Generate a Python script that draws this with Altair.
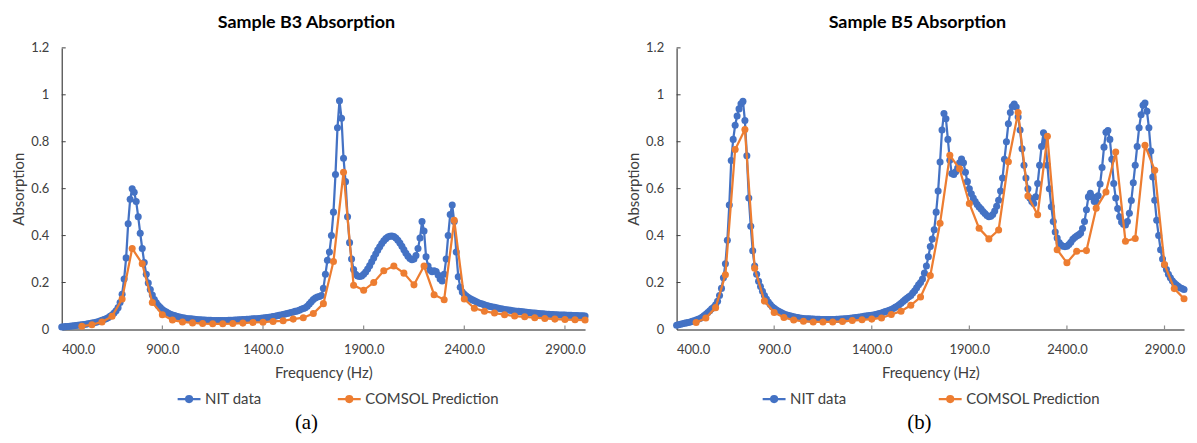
import altair as alt
import pandas as pd

# ---------------- data ----------------
nit_freq = list(range(400, 3001, 10))      # NIT measurement grid (Hz)
comsol_freq = list(range(500, 3001, 50))   # COMSOL prediction grid (Hz)

b3_nit = [
    0.010, 0.011, 0.012, 0.013, 0.014, 0.015, 0.016, 0.017, 0.018, 0.019,  # 400
    0.020, 0.021, 0.022, 0.024, 0.025, 0.027, 0.029, 0.031, 0.033, 0.036,  # 500
    0.039, 0.042, 0.046, 0.050, 0.056, 0.062, 0.070, 0.080, 0.093, 0.115,  # 600
    0.150, 0.215, 0.305, 0.450, 0.555, 0.600, 0.585, 0.545, 0.480, 0.410,  # 700
    0.345, 0.285, 0.235, 0.198, 0.170, 0.147, 0.128, 0.114, 0.102, 0.093,  # 800
    0.085, 0.079, 0.074, 0.069, 0.065, 0.062, 0.059, 0.056, 0.054, 0.052,  # 900
    0.050, 0.049, 0.047, 0.046, 0.045, 0.044, 0.043, 0.042, 0.041, 0.041,  # 1000
    0.040, 0.040, 0.039, 0.039, 0.039, 0.038, 0.038, 0.038, 0.038, 0.038,  # 1100
    0.038, 0.038, 0.038, 0.039, 0.039, 0.039, 0.040, 0.040, 0.041, 0.041,  # 1200
    0.042, 0.042, 0.043, 0.043, 0.044, 0.045, 0.045, 0.046, 0.047, 0.048,  # 1300
    0.049, 0.050, 0.051, 0.052, 0.053, 0.055, 0.056, 0.058, 0.060, 0.062,  # 1400
    0.064, 0.066, 0.068, 0.070, 0.072, 0.074, 0.077, 0.079, 0.082, 0.086,  # 1500
    0.089, 0.092, 0.099, 0.108, 0.118, 0.128, 0.134, 0.138, 0.140, 0.145,  # 1600
    0.175, 0.235, 0.295, 0.330, 0.400, 0.500, 0.660, 0.860, 0.975, 0.900,  # 1700
    0.730, 0.630, 0.480, 0.370, 0.300, 0.255, 0.235, 0.228, 0.226, 0.228,  # 1800
    0.235, 0.245, 0.258, 0.272, 0.288, 0.305, 0.322, 0.338, 0.352, 0.366,  # 1900
    0.378, 0.387, 0.394, 0.397, 0.398, 0.396, 0.390, 0.380, 0.368, 0.355,  # 2000
    0.340, 0.325, 0.312, 0.302, 0.297, 0.300, 0.315, 0.345, 0.390, 0.460,  # 2100
    0.420, 0.310, 0.270, 0.252, 0.246, 0.250, 0.247, 0.232, 0.215, 0.207,  # 2200
    0.235, 0.300, 0.400, 0.490, 0.530, 0.460, 0.330, 0.225, 0.180, 0.160,  # 2300
    0.150, 0.142, 0.136, 0.131, 0.126, 0.122, 0.118, 0.114, 0.111, 0.108,  # 2400
    0.105, 0.102, 0.100, 0.098, 0.096, 0.094, 0.092, 0.090, 0.088, 0.087,  # 2500
    0.085, 0.084, 0.083, 0.082, 0.080, 0.079, 0.078, 0.077, 0.076, 0.075,  # 2600
    0.074, 0.073, 0.072, 0.071, 0.070, 0.070, 0.069, 0.068, 0.067, 0.067,  # 2700
    0.066, 0.065, 0.065, 0.064, 0.064, 0.063, 0.063, 0.062, 0.062, 0.061,  # 2800
    0.061, 0.060, 0.060, 0.060, 0.059, 0.059, 0.059, 0.058, 0.058, 0.058,  # 2900
    0.057,                                                                 # 3000
]

b3_comsol = [
    0.014, 0.020, 0.032, 0.056, 0.130, 0.345, 0.280, 0.115, 0.063, 0.040,  # 500-950
    0.032, 0.028, 0.025, 0.024, 0.024, 0.025, 0.027, 0.030, 0.031, 0.034,  # 1000-1450
    0.037, 0.044, 0.050, 0.068, 0.110, 0.290, 0.670, 0.188, 0.167, 0.200,  # 1500-1950
    0.250, 0.270, 0.240, 0.190, 0.270, 0.148, 0.127, 0.465, 0.130, 0.090,  # 2000-2450
    0.078, 0.070, 0.063, 0.057, 0.054, 0.050, 0.047, 0.044, 0.042, 0.041,  # 2500-2950
    0.040,                                                                 # 3000
]

b5_nit = [
    0.018, 0.020, 0.022, 0.024, 0.026, 0.028, 0.030, 0.032, 0.035, 0.037,  # 400
    0.040, 0.043, 0.047, 0.052, 0.058, 0.065, 0.072, 0.080, 0.088, 0.095,  # 500
    0.105, 0.120, 0.145, 0.175, 0.220, 0.280, 0.380, 0.530, 0.720, 0.810,  # 600
    0.870, 0.910, 0.940, 0.962, 0.972, 0.890, 0.740, 0.560, 0.440, 0.335,  # 700
    0.270, 0.235, 0.205, 0.183, 0.163, 0.145, 0.130, 0.117, 0.106, 0.097,  # 800
    0.090, 0.084, 0.079, 0.074, 0.070, 0.066, 0.063, 0.060, 0.058, 0.056,  # 900
    0.054, 0.052, 0.051, 0.049, 0.048, 0.047, 0.046, 0.045, 0.045, 0.044,  # 1000
    0.044, 0.043, 0.043, 0.043, 0.042, 0.042, 0.042, 0.042, 0.042, 0.042,  # 1100
    0.042, 0.042, 0.043, 0.043, 0.044, 0.044, 0.045, 0.046, 0.047, 0.048,  # 1200
    0.049, 0.050, 0.051, 0.052, 0.053, 0.054, 0.056, 0.057, 0.058, 0.059,  # 1300
    0.060, 0.062, 0.064, 0.066, 0.068, 0.070, 0.073, 0.076, 0.079, 0.082,  # 1400
    0.085, 0.089, 0.094, 0.099, 0.105, 0.112, 0.119, 0.126, 0.133, 0.139,  # 1500
    0.145, 0.155, 0.165, 0.178, 0.190, 0.200, 0.215, 0.240, 0.270, 0.310,  # 1600
    0.353, 0.385, 0.425, 0.500, 0.590, 0.714, 0.850, 0.920, 0.898, 0.810,  # 1700
    0.721, 0.665, 0.660, 0.672, 0.688, 0.710, 0.726, 0.710, 0.670, 0.630,  # 1800
    0.600, 0.578, 0.560, 0.545, 0.532, 0.522, 0.513, 0.503, 0.494, 0.486,  # 1900
    0.480, 0.482, 0.490, 0.505, 0.525, 0.551, 0.590, 0.645, 0.725, 0.800,  # 2000
    0.877, 0.925, 0.950, 0.961, 0.948, 0.905, 0.850, 0.770, 0.700, 0.645,  # 2100
    0.600, 0.560, 0.545, 0.537, 0.565, 0.622, 0.700, 0.780, 0.838, 0.800,  # 2200
    0.700, 0.600, 0.523, 0.460, 0.415, 0.390, 0.370, 0.360, 0.355, 0.353,  # 2300
    0.355, 0.362, 0.372, 0.384, 0.392, 0.398, 0.403, 0.410, 0.430, 0.460,  # 2400
    0.510, 0.565, 0.580, 0.565, 0.545, 0.545, 0.570, 0.620, 0.690, 0.777,  # 2500
    0.840, 0.848, 0.810, 0.725, 0.622, 0.560, 0.515, 0.480, 0.458, 0.448,  # 2600
    0.445, 0.460, 0.495, 0.550, 0.625, 0.700, 0.780, 0.860, 0.915, 0.955,  # 2700
    0.965, 0.930, 0.860, 0.760, 0.650, 0.551, 0.465, 0.400, 0.340, 0.300,  # 2800
    0.275, 0.255, 0.235, 0.220, 0.208, 0.198, 0.190, 0.184, 0.178, 0.174,  # 2900
    0.170,                                                                 # 3000
]

b5_comsol = [
    0.030, 0.049, 0.093, 0.233, 0.767, 0.852, 0.261, 0.121, 0.072, 0.051,  # 500-950
    0.040, 0.035, 0.032, 0.032, 0.032, 0.034, 0.038, 0.041, 0.044, 0.049,  # 1000-1450
    0.064, 0.078, 0.103, 0.138, 0.230, 0.453, 0.742, 0.685, 0.537, 0.431,  # 1500-1950
    0.386, 0.424, 0.715, 0.925, 0.569, 0.489, 0.823, 0.340, 0.284, 0.333,  # 2000-2450
    0.336, 0.517, 0.586, 0.756, 0.376, 0.388, 0.785, 0.678, 0.277, 0.174,  # 2500-2950
    0.131,                                                                 # 3000
]

series_names = ["NIT data", "COMSOL Prediction"]
series_colors = ["#4472C4", "#ED7D31"]
panel_titles = ["Sample B3 Absorption", "Sample B5 Absorption"]
captions = ["(a)", "(b)"]
x_tick_values = [400, 900, 1400, 1900, 2400, 2900]
y_tick_values = [0, 0.2, 0.4, 0.6, 0.8, 1.0, 1.2]

# ---------------- chart ----------------
H = 283
FONT = "Lato"
TEXT_COL = "#404040"
LEGEND_SYMBOL = ("M-1,0L1,0M-0.26,0A0.26,0.26,0,1,1,0.26,0"
                 "A0.26,0.26,0,1,1,-0.26,0Z")


def panel(nit, comsol, title, caption, width, legend_x, col_pad, title_dx, cap_x):
    df_nit = pd.DataFrame({"freq": nit_freq, "value": nit, "series": series_names[0]})
    df_com = pd.DataFrame({"freq": comsol_freq, "value": comsol, "series": series_names[1]})
    df_xt = pd.DataFrame({"freq": x_tick_values[1:]})
    df_yt = pd.DataFrame({"value": y_tick_values[1:]})

    xs = alt.Scale(domain=[400, 3000], nice=False, zero=False)
    ys = alt.Scale(domain=[0, 1.2], nice=False)
    x_axis = alt.Axis(
        values=x_tick_values, format=".1f", title="Frequency (Hz)",
        ticks=False, labelPadding=14, titlePadding=9, domainColor="#8c8c8c",
        domainWidth=2, grid=False,
        labelFont=FONT, labelFontSize=13, labelColor=TEXT_COL,
        titleFont=FONT, titleFontSize=15, titleFontWeight="normal", titleColor=TEXT_COL)
    y_axis = alt.Axis(
        values=y_tick_values, format="~g", title="Absorption",
        ticks=False, labelPadding=13, titlePadding=4, domainColor="#404040",
        domainWidth=1.2, grid=False,
        labelFont=FONT, labelFontSize=13, labelColor=TEXT_COL,
        titleFont=FONT, titleFontSize=15, titleFontWeight="normal", titleColor=TEXT_COL)
    x_enc = alt.X("freq:Q", scale=xs, axis=x_axis)
    y_enc = alt.Y("value:Q", scale=ys, axis=y_axis)
    color = alt.Color("series:N", scale=alt.Scale(domain=series_names, range=series_colors),
                      legend=alt.Legend(
                          title=None, orient="none", direction="horizontal",
                          legendX=legend_x, legendY=340, columnPadding=col_pad,
                          symbolType=LEGEND_SYMBOL, symbolSize=529,
                          symbolStrokeWidth=2.25, labelOffset=3, padding=0,
                          labelFont=FONT, labelFontSize=15, labelColor=TEXT_COL))

    layers = []
    for df in (df_nit, df_com):
        base = alt.Chart(df)
        layers.append(base.mark_line(strokeWidth=2.25).encode(x=x_enc, y=y_enc, color=color))
        layers.append(base.mark_circle(size=50, opacity=1).encode(x=x_enc, y=y_enc, color=color))

    # inside tick marks (Excel style), positioned through the same scales
    xt = alt.Chart(df_xt).mark_rule(color="#8c8c8c", strokeWidth=1.2).encode(
        x=x_enc, y=alt.value(H), y2=alt.value(H - 4))
    yt = alt.Chart(df_yt).mark_rule(color="#404040", strokeWidth=1).encode(
        y=y_enc, x=alt.value(0), x2=alt.value(4))
    cap = alt.Chart(pd.DataFrame({"c": [caption]})).mark_text(
        font="Liberation Serif", fontSize=21, color="#000000", baseline="middle").encode(
        text="c:N", x=alt.value(cap_x), y=alt.value(377))

    return alt.layer(*layers, xt, yt, cap).properties(
        width=width, height=H,
        title=alt.TitleParams(title, font=FONT, fontSize=18, fontWeight="bold",
                              color="#000000", anchor="middle", dx=title_dx, offset=10),
    )


pa = panel(b3_nit, b3_comsol, panel_titles[0], captions[0], 526, 115, 72, -17, 246)
pb = panel(b5_nit, b5_comsol, panel_titles[1], captions[1], 510, 85, 88, -13, 244)

chart = alt.hconcat(pa, pb, spacing=36).resolve_scale(color="independent").resolve_legend(
    color="independent").properties(
    padding={"left": 3, "top": 5, "right": 0, "bottom": 0},
    background="white",
).configure_view(stroke=None)

chart.save("out.html", embed_options={"renderer": "svg", "actions": False})
